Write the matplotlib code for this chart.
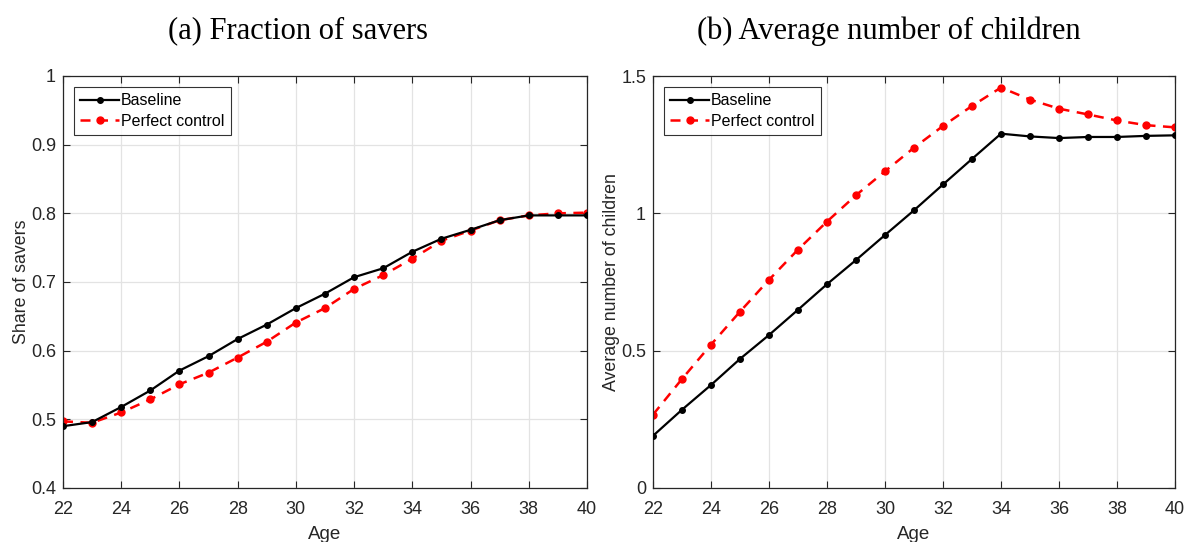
import matplotlib
matplotlib.use("Agg")
import matplotlib.pyplot as plt
import numpy as np

ages = list(range(22, 41))

savers_baseline = [0.490, 0.496, 0.518, 0.542, 0.571, 0.592, 0.617, 0.638, 0.662, 0.683,
                   0.707, 0.720, 0.744, 0.763, 0.776, 0.790, 0.797, 0.797, 0.797]
savers_perfect = [0.497, 0.495, 0.510, 0.529, 0.551, 0.568, 0.590, 0.613, 0.641, 0.662,
                  0.690, 0.710, 0.734, 0.760, 0.775, 0.790, 0.797, 0.800, 0.801]

children_baseline = [0.190, 0.285, 0.375, 0.470, 0.557, 0.649, 0.742, 0.830, 0.921, 1.011,
                     1.105, 1.198, 1.290, 1.280, 1.274, 1.278, 1.278, 1.282, 1.284]
children_perfect = [0.267, 0.397, 0.522, 0.642, 0.758, 0.868, 0.970, 1.066, 1.153, 1.239,
                    1.318, 1.391, 1.458, 1.414, 1.381, 1.360, 1.338, 1.321, 1.313]

series_labels = ["Baseline", "Perfect control"]
titles = ["(a) Fraction of savers", "(b) Average number of children"]
ylabels = ["Share of savers", "Average number of children"]
xticks = list(range(22, 41, 2))
yticks_a = [0.4, 0.5, 0.6, 0.7, 0.8, 0.9, 1.0]
ytick_labels_a = ["0.4", "0.5", "0.6", "0.7", "0.8", "0.9", "1"]
yticks_b = [0, 0.5, 1.0, 1.5]
ytick_labels_b = ["0", "0.5", "1", "1.5"]

plt.rcParams["font.family"] = ["Liberation Sans", "DejaVu Sans"]
axis_color = "#262626"

W, H = 1185, 542
fig = plt.figure(figsize=(W / 100, H / 100), dpi=100)
ax_a = fig.add_axes([63 / W, 1 - 488 / H, 524 / W, 412 / H])
ax_b = fig.add_axes([653 / W, 1 - 488 / H, 522 / W, 412 / H])

panels = [
    (ax_a, savers_baseline, savers_perfect, (0.4, 1.0), yticks_a, ytick_labels_a),
    (ax_b, children_baseline, children_perfect, (0, 1.5), yticks_b, ytick_labels_b),
]
title_x = [298 / W, 889 / W]

for i, (ax, base, perf, ylim, yt, ytl) in enumerate(panels):
    ax.plot(ages, base, color="black", linestyle="-", linewidth=1.6,
            marker="o", markersize=4, label=series_labels[0], zorder=3)
    ax.plot(ages, perf, color="red", linestyle=(0, (4, 3)), linewidth=1.8,
            marker="o", markersize=5, label=series_labels[1], zorder=2)
    ax.set_xlim(22, 40)
    ax.set_ylim(*ylim)
    ax.set_xticks(xticks)
    ax.set_yticks(yt)
    ax.set_yticklabels(ytl)
    ax.grid(True, color="#e3e3e3", linewidth=0.9)
    ax.set_axisbelow(True)
    ax.tick_params(direction="in", top=True, right=True, length=5,
                   width=0.8, colors=axis_color, labelsize=13)
    ax.tick_params(axis="x", pad=9)
    ax.tick_params(axis="y", pad=5)
    for sp in ax.spines.values():
        sp.set_color(axis_color)
        sp.set_linewidth(0.9)
    ax.set_xlabel("Age", fontsize=13.5, color=axis_color, labelpad=6)
    ax.set_ylabel(ylabels[i], fontsize=12.8, color=axis_color, labelpad=1)
    fig.text(title_x[i], 1 - 31 / H, titles[i], fontsize=22,
             family=["Liberation Serif", "DejaVu Serif"], color="black",
             ha="center", va="center")
    leg = ax.legend(loc="upper left", bbox_to_anchor=(11 / 524, 1 - 11 / 412),
                    fontsize=11.5, frameon=True, fancybox=False, edgecolor="black",
                    handlelength=2.4, handletextpad=0.15, borderpad=0.4,
                    labelspacing=0.35, borderaxespad=0.0)
    leg.get_frame().set_linewidth(0.8)

fig.savefig("out.png", dpi=100, facecolor="white")
